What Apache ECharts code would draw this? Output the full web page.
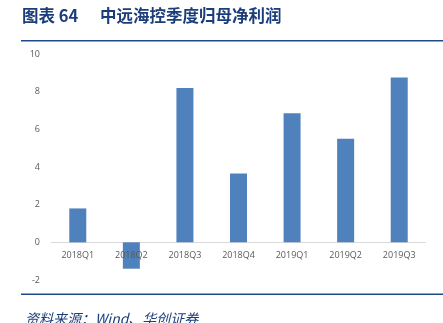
<!DOCTYPE html>
<html><head><meta charset="utf-8">
<script src="https://cdn.jsdelivr.net/npm/echarts@6/dist/echarts.min.js"></script>
<style>html,body{margin:0;padding:0;background:#fff}#c{width:443px;height:323px}</style>
</head><body><div id="c"></div>
<script>
const categories = ['2018Q1','2018Q2','2018Q3','2018Q4','2019Q1','2019Q2','2019Q3'];
const profits = [1.8, -1.4, 8.2, 3.65, 6.85, 5.5, 8.75];
const figureLabel = '图表 64';
const titleText = '中远海控季度归母净利润';
const sourceText = '资料来源：Wind、华创证券';

const chart = echarts.init(document.getElementById('c'), null, {renderer:'canvas'});
chart.setOption({
  animation:false,
  backgroundColor:'#fff',
  grid:{left:51, right:17, top:54, bottom:43},
  xAxis:{type:'category', data:categories, z:10,
    axisLine:{show:false},
    axisTick:{show:false},
    axisLabel:{color:'#595959', fontSize:9, fontFamily:'Open Sans', margin:-29}},
  yAxis:{type:'value', min:-2, max:10, interval:2,
    axisLine:{show:false}, axisTick:{show:false}, splitLine:{show:false},
    axisLabel:{color:'#595959', fontSize:9, fontFamily:'Open Sans', margin:11}},
  series:[{type:'bar', data:profits, barWidth:17, z:2,
    itemStyle:{color:'#4F81BD'},
    markLine:{silent:true, symbol:'none', label:{show:false},
      lineStyle:{color:'#D9D9D9', type:'solid', width:1},
      data:[{yAxis:0}], z:1}}],
  graphic:[
    {type:'text', left:22, top:7, style:{text:figureLabel, fill:'#1B3E7A',
      font:'bold 16.5px "Noto Sans CJK SC"'}},
    {type:'text', left:100, top:7, style:{text:titleText, fill:'#1B3E7A',
      font:'bold 16.5px "Noto Sans CJK SC"'}},
    {type:'rect', shape:{x:21, y:40, width:422, height:1.5}, style:{fill:'#1F4A8A'}},
    {type:'rect', shape:{x:21, y:293.5, width:422, height:1.5}, style:{fill:'#1F4A8A'}},
    {type:'text', left:25, top:312, style:{text:sourceText, fill:'#1B3E7A',
      font:'italic 14px "Noto Sans CJK SC"'}}
  ]
});
</script></body></html>
